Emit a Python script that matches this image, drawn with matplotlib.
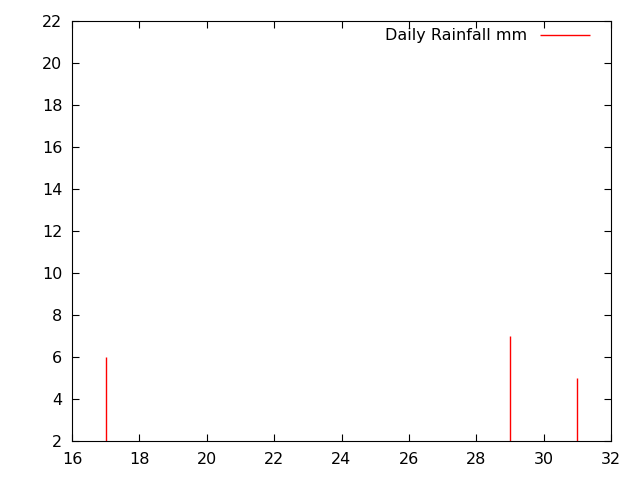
import matplotlib
matplotlib.use('Agg')
import matplotlib.pyplot as plt

days = [17, 29, 31]
rain = [6, 7, 5]

xticks = [16, 18, 20, 22, 24, 26, 28, 30, 32]
yticks = [2, 4, 6, 8, 10, 12, 14, 16, 18, 20, 22]

plt.rcParams['font.family'] = 'DejaVu Sans'
plt.rcParams['font.size'] = 11.5

fig = plt.figure(figsize=(6.4, 4.8), dpi=100)
ax = fig.add_axes([72/640., 1-441/480., (611-72)/640., (441-21)/480.])

ax.vlines(days, 0, rain, colors='red', linewidth=1.0, label='Daily Rainfall mm')

ax.set_xlim(16, 32)
ax.set_ylim(2, 22)
ax.set_xticks(xticks)
ax.set_yticks(yticks)
ax.tick_params(direction='in', top=True, right=True, length=5, width=0.8)
ax.tick_params(axis='x', pad=8)
ax.tick_params(axis='y', pad=7)
for s in ax.spines.values():
    s.set_linewidth(0.8)

ax.legend(loc='upper right', frameon=False, markerfirst=False, handlelength=3.1,
          handletextpad=0.8, borderaxespad=0.6, borderpad=0.3,
          bbox_to_anchor=(1 - 7/539., 1 + 7/420.))

fig.savefig('out.png', dpi=100, facecolor='w')
